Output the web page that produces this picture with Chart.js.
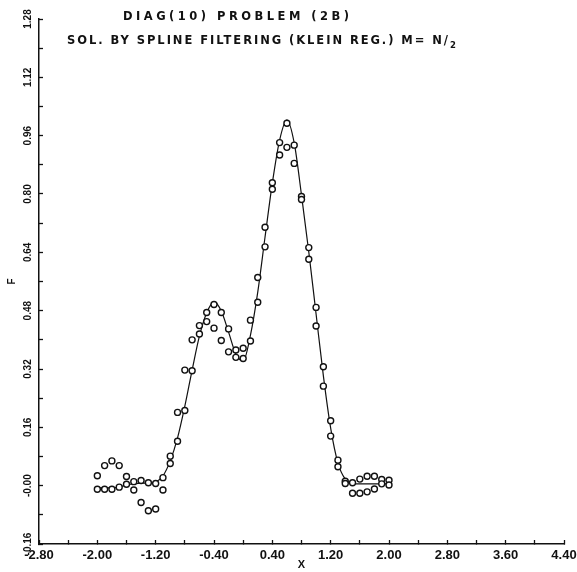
<!DOCTYPE html>
<html>
<head>
<meta charset="utf-8">
<script src="https://cdn.jsdelivr.net/npm/chart.js@4.4.0/dist/chart.umd.min.js"></script>
<style>
  html, body { margin: 0; padding: 0; background: #fff; }
  #wrap { width: 577px; height: 572px; }
</style>
</head>
<body>
<div id="wrap"><canvas id="chart" width="577" height="572"></canvas></div>
<script>
// sample abscissae, -2.0 .. 2.0 step 0.1
const xGrid = [-2.0, -1.9, -1.8, -1.7, -1.6, -1.5, -1.4, -1.3, -1.2, -1.1,
               -1.0, -0.9, -0.8, -0.7, -0.6, -0.5, -0.4, -0.3, -0.2, -0.1,
                0.0,  0.1,  0.2,  0.3,  0.4,  0.5,  0.6,  0.7,  0.8,  0.9,
                1.0,  1.1,  1.2,  1.3,  1.4,  1.5,  1.6,  1.7,  1.8,  1.9, 2.0];

// noisy input values
const fData = [0.027, 0.055, 0.068, 0.055, 0.025, -0.012, -0.046, -0.069, -0.064, -0.012,
               0.081, 0.201, 0.317, 0.400, 0.439, 0.450, 0.432, 0.398, 0.367, 0.372,
               0.377, 0.454, 0.571, 0.709, 0.813, 0.907, 0.928, 0.884, 0.785, 0.621,
               0.438, 0.273, 0.136, 0.052, 0.006, -0.021, -0.021, -0.017, -0.009, 0.005, 0.002];

// filtered solution at the samples
const fSolution = [-0.010, -0.010, -0.010, -0.004, 0.004, 0.011, 0.014, 0.008, 0.006, 0.022,
                   0.061, 0.122, 0.206, 0.315, 0.416, 0.475, 0.497, 0.475, 0.430, 0.352,
                   0.349, 0.397, 0.503, 0.655, 0.831, 0.941, 0.994, 0.934, 0.793, 0.653,
                   0.489, 0.326, 0.178, 0.070, 0.012, 0.008, 0.018, 0.026, 0.026, 0.017, 0.015];

// spline curve through the samples
const fSpline = [-0.006, -0.006, -0.006, -0.004, 0.002, 0.005, 0.007, 0.007, 0.010, 0.027,
                 0.068, 0.131, 0.218, 0.317, 0.410, 0.474, 0.504, 0.479, 0.421, 0.361,
                 0.342, 0.413, 0.531, 0.682, 0.830, 0.948, 1.003, 0.940, 0.797, 0.641,
                 0.471, 0.301, 0.158, 0.062, 0.018, 0.005, 0.005, 0.005, 0.005, 0.005, 0.005];

const xTickLabels = ['-2.80', '-2.00', '-1.20', '-0.40', '0.40', '1.20', '2.00', '2.80', '3.60', '4.40'];
// the plotter prints zero with a minus sign
const yTickLabels = ['-0.16', '-0.00', '0.16', '0.32', '0.48', '0.64', '0.80', '0.96', '1.12', '1.28'];

const titleLines = ['DIAG(10) PROBLEM (2B)', 'SOL. BY SPLINE FILTERING (KLEIN REG.) M= N/'];
const titleSub = '2';
const xTitle = 'X';
const yTitle = 'F';

const INK = '#111';
const FONT = '"Liberation Sans", Arial, sans-serif';
const TITLE_FONT = '"DejaVu Sans", sans-serif';

const pts = ys => xGrid.map((x, i) => ({ x: x, y: ys[i] }));

// spread letters so a line spans the given width, returns the end x
function drawSpaced(ctx, text, x, y, width) {
  ctx.letterSpacing = '0px';
  const plain = ctx.measureText(text).width;
  const gap = (width - plain) / (text.length - 1);
  ctx.letterSpacing = gap + 'px';
  ctx.fillText(text, x, y);
  const w = ctx.measureText(text).width - gap;
  ctx.letterSpacing = '0px';
  return x + w;
}

const plotTitle = {
  id: 'plotTitle',
  afterDraw(chart) {
    const ctx = chart.ctx;
    ctx.save();
    ctx.fillStyle = INK;
    ctx.textAlign = 'left';
    ctx.textBaseline = 'alphabetic';
    ctx.font = 'bold 11.5px ' + TITLE_FONT;
    drawSpaced(ctx, titleLines[0], 123, 20, 226);
    const end = drawSpaced(ctx, titleLines[1], 67, 44, 381);
    ctx.font = 'bold 8.5px ' + TITLE_FONT;
    ctx.fillText(titleSub, end + 2, 48);
    ctx.restore();
  }
};

const gridOpts = {
  drawOnChartArea: false,
  drawTicks: true,
  tickLength: -4,   // ticks point into the plot
  tickColor: INK,
  tickWidth: 1.3
};

new Chart(document.getElementById('chart'), {
  type: 'scatter',
  data: {
    datasets: [
      {
        label: 'spline',
        data: pts(fSpline),
        showLine: true,
        borderColor: INK,
        borderWidth: 1.2,
        pointRadius: 0,
        cubicInterpolationMode: 'monotone',
        order: 3
      },
      {
        label: 'solution',
        data: pts(fSolution),
        pointRadius: 3,
        pointBorderWidth: 1.4,
        borderColor: INK,
        backgroundColor: '#fff',
        order: 2
      },
      {
        label: 'data',
        data: pts(fData),
        pointRadius: 3,
        pointBorderWidth: 1.4,
        borderColor: INK,
        backgroundColor: '#fff',
        order: 1
      }
    ]
  },
  options: {
    responsive: false,
    animation: false,
    layout: { padding: { top: 19, right: 13, left: 0, bottom: 0 } },
    plugins: {
      legend: { display: false },
      tooltip: { enabled: false }
    },
    scales: {
      x: {
        type: 'linear',
        min: -2.8,
        max: 4.4,
        grid: gridOpts,
        border: { color: INK, width: 1.5 },
        ticks: {
          stepSize: 0.4,
          maxTicksLimit: 50,
          autoSkip: false,
          minRotation: 0,
          maxRotation: 0,
          padding: 8,
          color: INK,
          font: { family: FONT, size: 13, weight: 'bold' },
          callback: (v, i) => (i % 2 === 0 ? xTickLabels[i / 2] : '')
        },
        title: {
          display: true,
          text: xTitle,
          color: INK,
          font: { family: FONT, size: 11, weight: 'bold' },
          padding: { top: 1, bottom: 0 }
        },
        afterFit: s => { s.height = 28; s.paddingLeft = 0; s.paddingRight = 0; }
      },
      y: {
        type: 'linear',
        min: -0.16,
        max: 1.28,
        grid: gridOpts,
        border: { color: INK, width: 1.5 },
        ticks: {
          stepSize: 0.08,
          maxTicksLimit: 50,
          autoSkip: false,
          minRotation: 90,
          maxRotation: 90,
          crossAlign: 'center',
          padding: 3,
          color: INK,
          font: { family: FONT, size: 10, weight: 'bold' },
          callback: (v, i) => (i % 2 === 0 ? yTickLabels[i / 2] : '')
        },
        title: {
          display: true,
          text: yTitle,
          color: INK,
          font: { family: FONT, size: 10, weight: 'bold' },
          padding: { top: 6, bottom: 0 }
        },
        afterFit: s => { s.width = 39; s.paddingTop = 0; s.paddingBottom = 0; }
      }
    }
  },
  plugins: [plotTitle]
});
</script>
</body>
</html>
